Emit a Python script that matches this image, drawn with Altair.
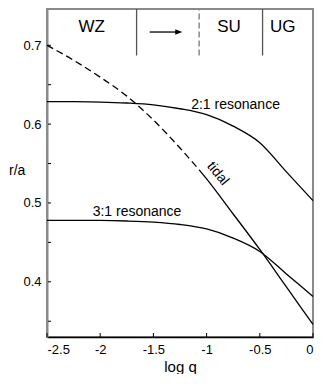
import altair as alt
import pandas as pd

# ---------------- data ----------------
log_q = [-2.5, -2.25, -2.0, -1.75, -1.5, -1.25, -1.0, -0.75, -0.5, -0.25, 0.0]
res_21 = [0.6285, 0.6284, 0.628, 0.6268, 0.6245, 0.6195, 0.612, 0.5975, 0.5765, 0.5395, 0.503]
res_31 = [0.478, 0.4779, 0.4778, 0.4771, 0.4757, 0.4727, 0.467, 0.4555, 0.4385, 0.410, 0.3815]

tidal_dash_q = [-2.5, -2.25, -2.0, -1.75, -1.5, -1.25, -1.07]
tidal_dash_r = [0.700, 0.681, 0.6595, 0.6355, 0.6052, 0.5697, 0.542]
tidal_solid_q = [-1.07, -1.0, -0.75, -0.5, -0.25, 0.0]
tidal_solid_r = [0.542, 0.5305, 0.486, 0.441, 0.3935, 0.346]

x_tick_values = [-2.5, -2.0, -1.5, -1.0, -0.5, 0.0]
y_label_values = [0.4, 0.5, 0.6, 0.7]
y_tick_values = [0.35, 0.4, 0.45, 0.5, 0.55, 0.6, 0.65, 0.7]

regime_names = ["WZ", "SU", "UG"]
regime_q = [-2.079, -0.79, -0.285]
regime_r = [0.7238, 0.7238, 0.7238]

boundary_q = [-1.658, -1.07, -0.474]
boundary_kind = ["solid", "dashed", "solid"]
boundary_bottom = [0.687, 0.687, 0.687]

arrow_q = [-1.535, -1.262]
arrow_r = [0.7168, 0.7168]
arrow_head_q = [-1.262]

curve_label_text = ["2:1 resonance", "3:1 resonance"]
curve_label_q = [-0.728, -1.654]
curve_label_r = [0.6239, 0.489]
tidal_label_q = [-0.895]
tidal_label_r = [0.537]

ylab_r = [0.5404]

# ---------------- layout ----------------
W, H = 266, 328
FONT = "Liberation Sans"
xscale = alt.Scale(domain=[-2.5, 0], nice=False, zero=False)
yscale = alt.Scale(domain=[0.33, 0.746], nice=False, zero=False)

curves = pd.DataFrame({
    "q": log_q * 2,
    "r": res_21 + res_31,
    "series": ["2:1"] * len(log_q) + ["3:1"] * len(log_q),
})
tidal_dash = pd.DataFrame({"q": tidal_dash_q, "r": tidal_dash_r})
tidal_solid = pd.DataFrame({"q": tidal_solid_q, "r": tidal_solid_r})

x_axis = alt.Axis(
    values=x_tick_values, ticks=False, grid=False, domainColor="black",
    domainWidth=1.3, labelFontSize=13, labelColor="black", labelPadding=6,
    labelExpr="'' + datum.value", title="log q", titleFontSize=15,
    titleFontWeight="normal", titleColor="black", titlePadding=3, labelFont=FONT,
    titleFont=FONT,
)
y_axis = alt.Axis(
    values=y_label_values, ticks=False, grid=False, domainColor="#8a8a8a",
    domainWidth=2, labelFontSize=13, labelColor="black", labelPadding=6,
    labelExpr="'' + datum.value", title=None, labelFont=FONT,
)

X = alt.X("q:Q")
Y = alt.Y("r:Q")

curve_layer = alt.Chart(curves).mark_line(
    color="black", strokeWidth=1.3, interpolate="monotone"
).encode(
    x=alt.X("q:Q", scale=xscale, axis=x_axis),
    y=alt.Y("r:Q", scale=yscale, axis=y_axis),
    detail="series:N",
)

tidal_dash_layer = alt.Chart(tidal_dash).mark_line(
    color="black", strokeWidth=1.3, strokeDash=[7, 4], interpolate="monotone"
).encode(x=X, y=Y)

tidal_solid_layer = alt.Chart(tidal_solid).mark_line(
    color="black", strokeWidth=1.3, interpolate="monotone"
).encode(x=X, y=Y)

# inward ticks
xt = pd.DataFrame({"q": x_tick_values})
x_tick_layer = alt.Chart(xt).mark_rule(color="black", strokeWidth=1).encode(
    x=X, y=alt.value(H), y2=alt.value(H - 4)
)
yt = pd.DataFrame({"r": y_tick_values})
y_tick_layer = alt.Chart(yt).mark_rule(color="black", strokeWidth=1).encode(
    y=Y, x=alt.value(1), x2=alt.value(4)
)

# regime boundaries at top
bnd = pd.DataFrame({"q": boundary_q, "kind": boundary_kind, "r": boundary_bottom})
bnd_solid = alt.Chart(bnd).transform_filter("datum.kind == 'solid'").mark_rule(
    color="#555555", strokeWidth=1.3
).encode(x=X, y=Y, y2=alt.value(0))
bnd_dash = alt.Chart(bnd).transform_filter("datum.kind == 'dashed'").mark_rule(
    color="#8a8a8a", strokeWidth=1.5, strokeDash=[6, 3]
).encode(x=X, y=Y, y2=alt.value(0))

regimes = pd.DataFrame({"name": regime_names, "q": regime_q, "r": regime_r})
regime_text = alt.Chart(regimes).mark_text(
    fontSize=17, font=FONT, color="black", align="center", baseline="middle"
).encode(x=X, y=Y, text="name:N")

arrow_df = pd.DataFrame({"q": [arrow_q[0]], "q2": [arrow_q[1]], "r": [arrow_r[0]]})
arrow_line = alt.Chart(arrow_df).mark_rule(color="black", strokeWidth=1.3).encode(
    x=X, x2="q2:Q", y=Y
)
arrow_head_df = pd.DataFrame({"q": arrow_head_q, "r": [arrow_r[0]]})
arrow_head = alt.Chart(arrow_head_df).mark_point(
    shape="M-1,-0.8L1,0L-1,0.8Z", size=49, filled=True, color="black", opacity=1
).encode(x=X, y=Y)

labels = pd.DataFrame({"t": curve_label_text, "q": curve_label_q, "r": curve_label_r})
label_text = alt.Chart(labels).mark_text(
    fontSize=14, font=FONT, color="black", align="center", baseline="middle"
).encode(x=X, y=Y, text="t:N")

tidal_lab = pd.DataFrame({"t": ["tidal"], "q": tidal_label_q, "r": tidal_label_r})
tidal_text = alt.Chart(tidal_lab).mark_text(
    fontSize=14, font=FONT, color="black", align="center", baseline="middle", angle=51
).encode(x=X, y=Y, text="t:N")

ylab = pd.DataFrame({"t": ["r/a"], "r": ylab_r})
ylab_text = alt.Chart(ylab).mark_text(
    fontSize=14, font=FONT, color="black", align="left", baseline="middle"
).encode(x=alt.value(-38), y=Y, text="t:N")

chart = alt.layer(
    curve_layer, tidal_dash_layer, tidal_solid_layer, x_tick_layer, y_tick_layer,
    bnd_solid, bnd_dash, regime_text, arrow_line, arrow_head, label_text,
    tidal_text, ylab_text,
).properties(
    width=W, height=H, autosize=alt.AutoSizeParams(type="none"),
    padding={"left": 39, "top": 1, "right": 6, "bottom": 37},
).configure(font=FONT).configure_view(stroke="#8a8a8a", strokeWidth=2)

chart.save("out.html", embed_options={"renderer": "svg", "actions": False})
